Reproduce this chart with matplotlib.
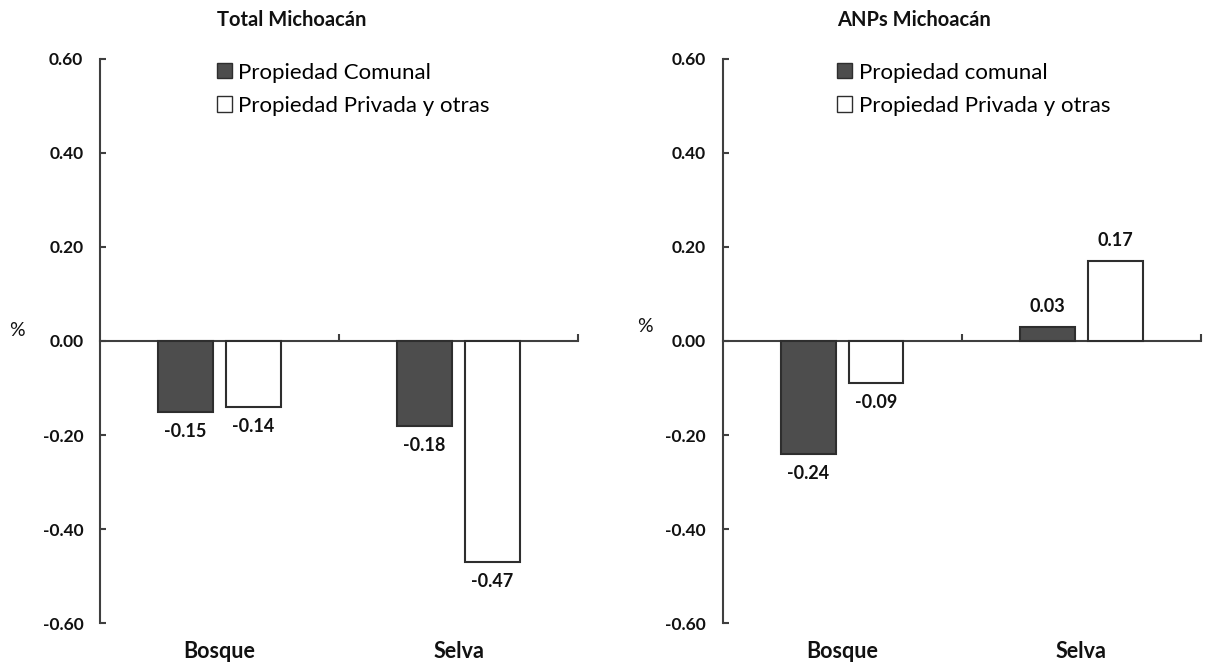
import matplotlib
matplotlib.use("Agg")
import matplotlib.pyplot as plt
from matplotlib.patches import Patch
from matplotlib.transforms import blended_transform_factory
import numpy as np

plt.rcParams['font.family'] = ['Lato', 'DejaVu Sans']

categories = ['Bosque', 'Selva']
panel_titles = ['Total Michoacán', 'ANPs Michoacán']
comunal_labels = ['Propiedad Comunal', 'Propiedad comunal']
privada_label = 'Propiedad Privada y otras'

total_comunal = [-0.15, -0.18]
total_privada = [-0.14, -0.47]
anp_comunal = [-0.24, 0.03]
anp_privada = [-0.09, 0.17]

yticks = [-0.60, -0.40, -0.20, 0.00, 0.20, 0.40, 0.60]

LINE = '#3f3f3f'
DARK = '#4d4d4d'
EDGE = '#2e2e2e'
TEXT = '#111111'

fig = plt.figure(figsize=(12.06, 6.65), dpi=100)

axes_rects = [
    [100 / 1206, 1 - 623.3 / 665, 478 / 1206, 564.6 / 665],
    [722.7 / 1206, 1 - 623.3 / 665, 478.3 / 1206, 564.6 / 665],
]
title_x = [291.7 / 1206, 914 / 1206]
legend_x = [0.244, 0.2396]
pct_pos = [(17 / 1206, 1 - 330 / 665), (645 / 1206, 1 - 326 / 665)]

series = [(total_comunal, total_privada), (anp_comunal, anp_privada)]

width = 0.228
offset = 0.142

for i, rect in enumerate(axes_rects):
    ax = fig.add_axes(rect)
    comunal, privada = series[i]
    x = np.arange(len(categories))
    b1 = ax.bar(x - offset, comunal, width, color=DARK, edgecolor=EDGE, linewidth=1.5, zorder=3)
    b2 = ax.bar(x + offset, privada, width, color='white', edgecolor=EDGE, linewidth=1.5, zorder=3)

    for bars, vals in ((b1, comunal), (b2, privada)):
        for bar, v in zip(bars, vals):
            cx = bar.get_x() + bar.get_width() / 2
            dy = 15 if v >= 0 else -14
            ax.annotate(f'{v:.2f}', xy=(cx, v), xytext=(0, dy), textcoords='offset points',
                        ha='center', va='center', fontsize=13, fontweight='bold', color=TEXT)

    ax.set_xlim(-0.5, 1.5)
    ax.set_ylim(-0.6, 0.6)
    ax.set_yticks(yticks)
    ax.set_yticklabels([f'{t:.2f}' for t in yticks], fontsize=12.5, fontweight='bold', color=TEXT)
    ax.tick_params(axis='y', direction='in', length=4, width=1.5, color=LINE, pad=12)

    ax.spines['top'].set_visible(False)
    ax.spines['right'].set_visible(False)
    ax.spines['left'].set_color(LINE)
    ax.spines['left'].set_linewidth(1.5)
    ax.spines['bottom'].set_position(('data', 0))
    ax.spines['bottom'].set_color(LINE)
    ax.spines['bottom'].set_linewidth(1.5)
    ax.set_xticks([0.5, 1.5])
    ax.set_xticklabels([])
    ax.tick_params(axis='x', direction='in', length=5, width=1.5, color=LINE)

    trans = blended_transform_factory(ax.transData, ax.transAxes)
    for xi, cat in zip(x, categories):
        ax.text(xi, -0.05, cat, transform=trans, ha='center', va='center',
                fontsize=15.5, fontweight='bold', color=TEXT)

    handles = [Patch(facecolor=DARK, edgecolor=EDGE, linewidth=1.0),
               Patch(facecolor='white', edgecolor=EDGE, linewidth=1.0)]
    ax.legend(handles, [comunal_labels[i], privada_label], loc='upper left',
              bbox_to_anchor=(legend_x[i], 0.993), frameon=False, fontsize=16,
              handlelength=0.68, handleheight=0.68, handletextpad=0.28,
              labelspacing=0.59, borderpad=0, borderaxespad=0)

    fig.text(title_x[i], 1 - 20 / 665, panel_titles[i], ha='center', va='center',
             fontsize=14.5, fontweight='bold', color=TEXT)
    fig.text(pct_pos[i][0], pct_pos[i][1], '%', ha='center', va='center',
             fontsize=14, color=TEXT)

fig.savefig('out.png', dpi=100)
